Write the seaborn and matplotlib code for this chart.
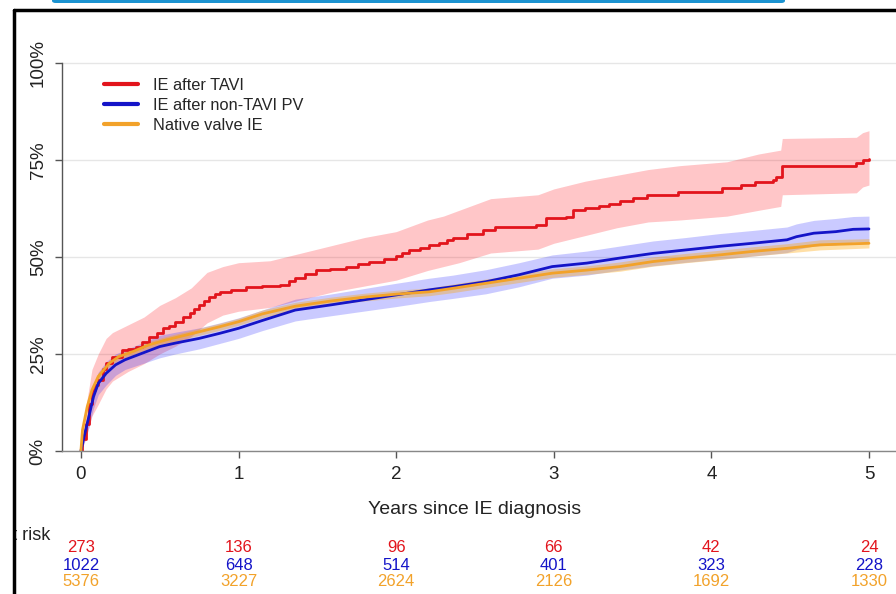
import matplotlib
matplotlib.use("Agg")
import matplotlib.pyplot as plt
import numpy as np
import pandas as pd
import seaborn as sns
from matplotlib.lines import Line2D
from matplotlib.patches import FancyBboxPatch, Rectangle
from matplotlib.transforms import blended_transform_factory

# --- data (cumulative incidence, %) ---
groups = ["IE after TAVI", "IE after non-TAVI PV", "Native valve IE"]
colors = {"IE after TAVI": "#E2141C", "IE after non-TAVI PV": "#1414C8", "Native valve IE": "#F2A22A"}
band_colors = {"IE after TAVI": "#FF0A14", "IE after non-TAVI PV": "#1E1EFF", "Native valve IE": "#FFA500"}

tavi_t = [0, 0.01, 0.03, 0.05, 0.07, 0.09, 0.11, 0.14, 0.16, 0.2,
          0.26, 0.3, 0.35, 0.39, 0.43, 0.48, 0.52, 0.56, 0.6, 0.65,
          0.69, 0.72, 0.75, 0.78, 0.81, 0.85, 0.88, 0.95, 1.05, 1.15,
          1.26, 1.32, 1.36, 1.42, 1.49, 1.58, 1.68, 1.76, 1.83, 1.92,
          2.0, 2.04, 2.08, 2.15, 2.21, 2.27, 2.32, 2.36, 2.45, 2.55,
          2.63, 2.89, 2.95, 3.08, 3.12, 3.2, 3.29, 3.35, 3.42, 3.5,
          3.59, 3.79, 4.07, 4.19, 4.28, 4.39, 4.41, 4.45, 4.92, 4.96, 5.0]
tavi_v = [0, 3, 7, 12, 15.7, 17, 18.3, 21, 22.7, 24.2,
          26, 26.4, 26.8, 28, 29.4, 30.5, 31.7, 32.2, 33.2, 34.5,
          35.6, 36.5, 37.6, 38.7, 39.7, 40.4, 41, 41.5, 42.3, 42.6,
          42.8, 43.7, 44.6, 45.5, 46.6, 47, 47.5, 48.2, 48.8, 49.4,
          50.1, 51, 51.8, 52.3, 53.1, 53.6, 54.4, 54.9, 55.8, 56.9,
          57.8, 58.2, 60, 60.4, 62.1, 62.5, 63, 63.6, 64.3, 65.1,
          66, 66.8, 67.7, 68.5, 69.4, 69.8, 70.7, 73.3, 74.1, 75, 75.3]

# TAVI confidence band (own grid)
tavi_ci_t = [0, 0.03, 0.07, 0.11, 0.16, 0.2, 0.3, 0.4, 0.5, 0.6, 0.7, 0.8, 0.9, 1.0,
             1.2, 1.4, 1.6, 1.8, 2.0, 2.2, 2.3, 2.4, 2.6, 2.9, 3.0, 3.2, 3.4, 3.6,
             3.8, 4.1, 4.3, 4.44, 4.45, 4.92, 4.96, 5.0]
tavi_lo = [0, 3, 9, 12, 16, 18, 20.5, 22.5, 25, 27, 29.5, 33, 35, 36,
           37, 39, 41, 42.5, 44, 46.5, 47.5, 48.5, 51, 52, 53.5, 55.5, 57.5, 59,
           59.5, 60.5, 62, 63, 66, 66.5, 68, 68.5]
tavi_hi = [0, 11, 21, 25, 29, 30.5, 32.5, 34.5, 37.5, 39.5, 42, 46, 47.5, 48.5,
           49, 51, 53, 55, 56.5, 59.5, 60.5, 62, 65, 66, 67.5, 69.5, 71, 72.5,
           73.5, 74.5, 76.5, 77.5, 80.5, 80.8, 82, 82.5]

pv_t = [0, 0.02, 0.05, 0.08, 0.11, 0.16, 0.22, 0.28, 0.39, 0.5,
        0.6, 0.75, 0.88, 1.0, 1.15, 1.36, 1.58, 1.79, 2.0, 2.21,
        2.36, 2.57, 2.78, 2.99, 3.21, 3.42, 3.63, 3.84, 4.05, 4.26,
        4.48, 4.54, 4.65, 4.79, 4.9, 5.0]
pv_v = [0, 3.7, 8.8, 14, 17.4, 20, 22.2, 23.5, 25.2, 26.9,
        27.8, 29, 30.3, 31.6, 33.6, 36.3, 37.6, 38.9, 40.2, 41.5,
        42.3, 43.6, 45.4, 47.5, 48.4, 49.7, 50.9, 51.8, 52.7, 53.5,
        54.4, 55.2, 56.1, 56.5, 57.1, 57.2]
pv_lo = [0, 2, 6, 11, 14.5, 17, 19.5, 21, 22.5, 24,
         25, 26.3, 27.7, 29, 31, 33.5, 34.8, 36, 37.2, 38.5,
         39.3, 40.5, 42.3, 44.5, 45.3, 46.6, 47.7, 48.6, 49.4, 50.2,
         51.1, 51.9, 52.8, 53.1, 53.8, 53.9]
pv_hi = [0, 5.5, 11.5, 17, 20.3, 23, 25, 26, 27.9, 29.8,
         30.6, 31.7, 33, 34.3, 36.3, 39.1, 40.4, 41.8, 43.2, 44.5,
         45.3, 46.7, 48.5, 50.5, 51.5, 52.8, 54.1, 55, 56, 56.8,
         57.7, 58.5, 59.4, 59.9, 60.4, 60.5]

native_t = [0, 0.01, 0.04, 0.07, 0.11, 0.18, 0.24, 0.33, 0.43, 0.54,
            0.71, 0.88, 1.0, 1.15, 1.36, 1.58, 1.79, 2.0, 2.21, 2.36,
            2.57, 2.78, 2.99, 3.21, 3.42, 3.63, 3.84, 4.05, 4.26, 4.48,
            4.69, 5.0]
native_v = [0, 5.4, 11.4, 15.7, 19.2, 22.6, 24.3, 25.6, 27.3, 28.6,
            30.3, 32, 33.3, 35.3, 37.3, 38.6, 39.6, 40.4, 41, 41.9,
            43.2, 44.5, 45.8, 46.6, 47.5, 48.8, 49.7, 50.5, 51.4, 52.2,
            53.1, 53.5]
native_lo = [0, 4.8, 10.6, 14.9, 18.4, 21.8, 23.5, 24.8, 26.4, 27.7,
             29.4, 31.1, 32.4, 34.3, 36.3, 37.6, 38.6, 39.4, 40, 40.8,
             42.1, 43.4, 44.7, 45.5, 46.3, 47.6, 48.5, 49.3, 50.2, 51,
             51.8, 52.3]
native_hi = [0, 6, 12.2, 16.5, 20, 23.4, 25.1, 26.4, 28.2, 29.5,
             31.2, 32.9, 34.2, 36.3, 38.3, 39.6, 40.6, 41.4, 42, 43,
             44.3, 45.6, 46.9, 47.7, 48.7, 50, 50.9, 51.7, 52.6, 53.4,
             54.4, 54.7]

risk_years = [0, 1, 2, 3, 4, 5]
risk_tavi = [273, 136, 96, 66, 42, 24]
risk_pv = [1022, 648, 514, 401, 323, 228]
risk_native = [5376, 3227, 2624, 2126, 1692, 1330]

# --- styling ---
sns.set_theme(style="white")
plt.rcParams["font.family"] = ["Liberation Sans", "DejaVu Sans"]

W, H = 896, 594
fig = plt.figure(figsize=(W / 100, H / 100), dpi=100)
ax_left, ax_bottom_px, ax_top_px = 62, 451, 55
ax = fig.add_axes([ax_left / W, (H - ax_bottom_px) / H,
                   (W - ax_left) / W, (ax_bottom_px - ax_top_px) / H])

# confidence bands
ax.fill_between(tavi_ci_t, tavi_lo, tavi_hi,
                color=band_colors["IE after TAVI"], alpha=0.23, lw=0)
ax.fill_between(pv_t, pv_lo, pv_hi,
                color=band_colors["IE after non-TAVI PV"], alpha=0.23, lw=0)
ax.fill_between(native_t, native_lo, native_hi,
                color=band_colors["Native valve IE"], alpha=0.35, lw=0)

df_tavi = pd.DataFrame({"t": tavi_t, "pct": tavi_v, "group": groups[0]})
df_rest = pd.concat([
    pd.DataFrame({"t": pv_t, "pct": pv_v, "group": groups[1]}),
    pd.DataFrame({"t": native_t, "pct": native_v, "group": groups[2]}),
], ignore_index=True)

# many events in the two large groups -> near-smooth curves; TAVI shows steps
sns.lineplot(data=df_tavi, x="t", y="pct", color=colors[groups[0]],
             estimator=None, sort=False, legend=False,
             drawstyle="steps-post", linewidth=2, ax=ax)
sns.lineplot(data=df_rest, x="t", y="pct", hue="group", hue_order=groups[1:],
             palette=colors, estimator=None, sort=False, legend=False,
             linewidth=2, ax=ax)

# axes, R-like
ax.set_xlim(-0.12, (W - 82) / 157.4)
ax.set_ylim(0, 102)
ax.set_yticks([0, 25, 50, 75, 100])
ax.set_yticklabels(["0%", "25%", "50%", "75%", "100%"], rotation=90, va="center")
ax.set_xticks(risk_years)
ax.set_xticklabels([str(y) for y in risk_years])
for yv in [0, 25, 50, 75, 100]:
    ax.axhline(yv, color="#e6e6e6", lw=1, zorder=0)
for side in ["top", "right"]:
    ax.spines[side].set_visible(False)
ax.spines["left"].set_bounds(0, 100)
ax.spines["left"].set_color("#555555")
ax.spines["bottom"].set_color("#888888")
ax.spines["left"].set_linewidth(1)
ax.spines["bottom"].set_linewidth(1)
ax.tick_params(axis="both", direction="out", length=5, width=1, color="#555555",
               labelsize=13.5, labelcolor="#222222")
ax.tick_params(axis="y", pad=6, left=True)
ax.tick_params(axis="x", pad=6, bottom=True)
ax.set_xlabel("Years since IE diagnosis", fontsize=14, color="#222222")
ax.xaxis.set_label_coords((475 - ax_left) / (W - ax_left), -0.125)
ax.set_ylabel("")

handles = [Line2D([], [], color=colors[g], lw=3) for g in groups]
ax.legend(handles, groups, loc="upper left", frameon=False, fontsize=11.8,
          bbox_to_anchor=((104 - ax_left) / (W - ax_left), (ax_bottom_px - 78) / (ax_bottom_px - ax_top_px)),
          borderaxespad=0, borderpad=0, handlelength=2.1, handletextpad=0.9,
          labelspacing=0.3)

# numbers at risk
tr = blended_transform_factory(ax.transData, fig.transFigure)
for counts, g, ypx in [(risk_tavi, groups[0], 548), (risk_pv, groups[1], 565),
                       (risk_native, groups[2], 582)]:
    for x, n in zip(risk_years, counts):
        ax.text(x, (H - ypx) / H, str(n), transform=tr, ha="center", va="center",
                fontsize=12, color=colors[g], clip_on=False)
fig.text(50 / W, (H - 536) / H, "Number at risk", ha="right", va="center",
         fontsize=13, color="#222222")

# page frame: white mask left of the border, black border, blue banner
fig.patches.append(Rectangle((0, 0), 14 / W, 1, transform=fig.transFigure,
                             facecolor="white", edgecolor="none", zorder=20))
fig.lines.append(Line2D([14 / W, 14 / W], [0, (H - 10) / H], transform=fig.transFigure,
                        color="black", lw=2.5, zorder=21))
fig.lines.append(Line2D([14 / W, 1], [(H - 10) / H, (H - 10) / H], transform=fig.transFigure,
                        color="black", lw=2.5, zorder=21))
fig.patches.append(FancyBboxPatch((52 / W, (H - 3) / H), (785 - 52) / W, 8 / H,
                                  boxstyle="round,pad=0,rounding_size=0.004",
                                  transform=fig.transFigure, facecolor="#1B93D1",
                                  edgecolor="none", zorder=22))

fig.savefig("out.png", dpi=100)
